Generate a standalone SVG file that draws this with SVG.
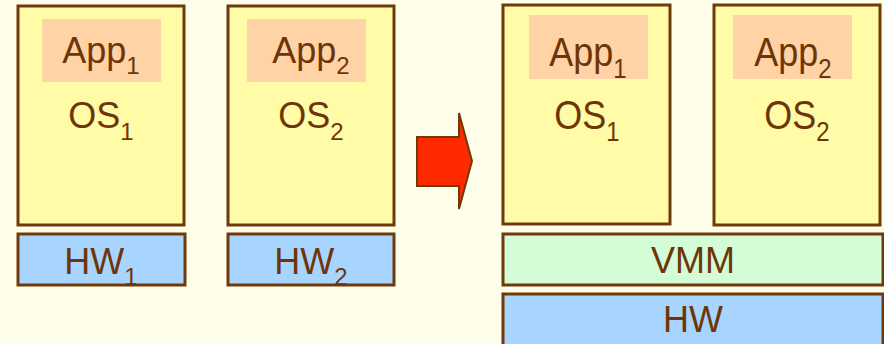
<svg xmlns="http://www.w3.org/2000/svg" width="884" height="344" viewBox="0 0 884 344">
<style>
.box{stroke:#6E3A0A;stroke-width:3}
.os{fill:#FFFBA6}
.app{fill:#FFD3A6}
.hw{fill:#A8D5FF}
.vmm{fill:#D4FCD6}
text{font-family:"Liberation Sans",Arial,sans-serif;fill:#6E3608;text-anchor:middle}
.t{font-size:36px}
.tb{font-size:36px}
.s{font-size:24px}
</style>
<rect width="884" height="344" fill="#FFFEEA"/>
<g id="os1-left">
<rect class="box os" x="18" y="6" width="166" height="219"/>
<rect class="app" x="42" y="19" width="119" height="63"/>
<text class="t" x="101" y="63">App<tspan class="s" dy="11">1</tspan></text>
<text class="t" x="101" y="128">OS<tspan class="s" dy="12">1</tspan></text>
</g>
<g id="hw1-left">
<rect class="box hw" x="18" y="234" width="167" height="51"/>
<text class="tb" x="101" y="274">HW<tspan class="s" dy="11">1</tspan></text>
</g>
<g id="os2-left">
<rect class="box os" x="228" y="6" width="166" height="219"/>
<rect class="app" x="247" y="19" width="119" height="63"/>
<text class="t" x="311" y="63">App<tspan class="s" dy="11">2</tspan></text>
<text class="t" x="311" y="128">OS<tspan class="s" dy="12">2</tspan></text>
</g>
<g id="hw2-left">
<rect class="box hw" x="228" y="234" width="166" height="51"/>
<text class="tb" x="311" y="274">HW<tspan class="s" dy="11">2</tspan></text>
</g>
<g id="arrow">
<polygon points="417,137 459,137 459,113 472,161 459,209 459,186 417,186" fill="#FF2A00" stroke="#6E3A0A" stroke-width="2" stroke-linejoin="miter"/>
</g>
<g id="os1-right">
<rect class="box os" x="503" y="5" width="167" height="219"/>
<rect class="app" x="529" y="15" width="119" height="64"/>
<text class="t" transform="translate(588,66) scale(1,1.15)">App<tspan class="s" dy="10">1</tspan></text>
<text class="t" transform="translate(587,129) scale(1,1.15)">OS<tspan class="s" dy="10">1</tspan></text>
</g>
<g id="os2-right">
<rect class="box os" x="714" y="5" width="166" height="220"/>
<rect class="app" x="733" y="15" width="119" height="64"/>
<text class="t" transform="translate(793,66) scale(1,1.15)">App<tspan class="s" dy="10">2</tspan></text>
<text class="t" transform="translate(797,129) scale(1,1.15)">OS<tspan class="s" dy="10">2</tspan></text>
</g>
<g id="vmm">
<rect class="box vmm" x="503" y="234" width="380" height="51"/>
<text class="tb" x="693" y="273">VMM</text>
</g>
<g id="hw">
<rect class="box hw" x="503" y="294" width="380" height="55"/>
<text class="tb" x="693" y="332">HW</text>
</g>
</svg>
